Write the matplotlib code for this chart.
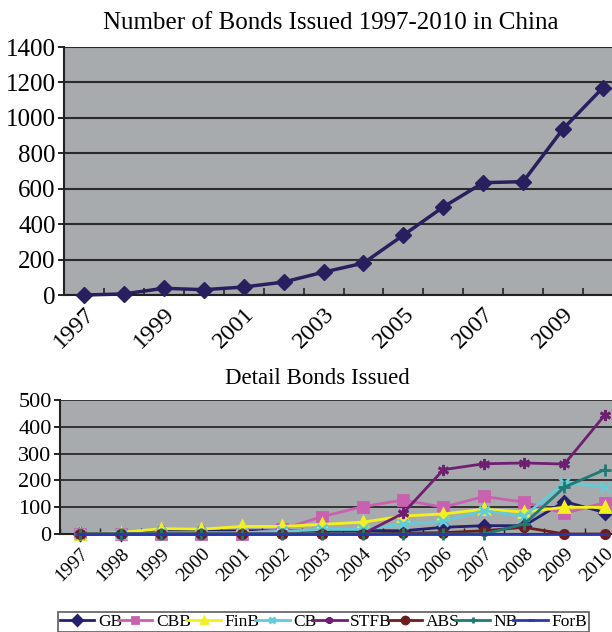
import matplotlib
matplotlib.use("Agg")
import matplotlib.pyplot as plt

plt.rcParams['font.family'] = ['Liberation Serif', 'DejaVu Serif']

years = [str(y) for y in range(1997, 2011)]

# total number of bonds issued
total = [0, 6, 38, 30, 45, 73, 129, 180, 338, 497, 634, 640, 938, 1171]

# detail by bond type
gb = [0, 0, 10, 10, 12, 13, 13, 13, 12, 25, 31, 31, 121, 80]
cbb = [0, 0, 0, 0, 0, 18, 65, 102, 127, 100, 140, 119, 77, 117]
finb = [0, 5, 20, 18, 28, 28, 36, 44, 67, 75, 92, 82, 100, 99]
cb = [0, 0, 5, 5, 5, 10, 17, 17, 37, 47, 87, 67, 190, 177]
stfb = [0, 0, 0, 0, 0, 0, 0, 0, 77, 240, 262, 265, 261, 444]
abs_ = [0, 0, 0, 0, 0, 0, 0, 0, 3, 5, 12, 25, 0, 0]
nb = [0, 0, 0, 0, 0, 0, 0, 0, 0, 0, 0, 37, 175, 240]
forb = [0, 0, 0, 0, 0, 0, 0, 0, 0, 0, 0, 0, 0, 0]

bg = "#a8abae"
grid_c = "#2a2a2a"

fig = plt.figure(figsize=(6.12, 6.32), dpi=100)
fig.patch.set_facecolor("white")

x = list(range(len(years)))

# ---- top chart
ax1 = fig.add_axes([64/612, 1-295/632, (623-64)/612, (295-47)/632])
ax1.set_facecolor(bg)
ax1.plot(x, total, color="#28205e", lw=2.5, marker="D", ms=8, clip_on=False, zorder=3)
ax1.set_xlim(-0.5, 13.5)
ax1.set_ylim(0, 1400)
ax1.set_yticks(range(0, 1401, 200))
ax1.yaxis.grid(True, color=grid_c, lw=1.5)
ax1.set_axisbelow(True)
ax1.set_xticks([i - 0.5 for i in range(15)])
ax1.set_xticklabels([])
ax1.tick_params(axis="x", which="major", direction="in", length=5, width=1.2, color="#222")
ax1.set_xticks(x[::2], minor=True)
ax1.set_xticklabels(years[::2], minor=True, rotation=45, ha="right",
                    rotation_mode="anchor", fontsize=17.5)
ax1.tick_params(axis="x", which="minor", length=0, pad=6)
ax1.tick_params(axis="y", labelsize=18, length=4, width=1.2, pad=2)
for s in ["top", "right"]:
    ax1.spines[s].set_visible(False)
ax1.spines["left"].set_color("#222")
ax1.spines["left"].set_linewidth(1.5)
ax1.spines["bottom"].set_color("#222")
ax1.spines["bottom"].set_linewidth(1.5)
fig.text(331/612, 1-23/632, "Number of Bonds Issued 1997-2010 in China",
         ha="center", va="center", fontsize=18)

# ---- bottom chart
ax2 = fig.add_axes([60/612, 1-534/632, (625-60)/612, (534-400)/632])
ax2.set_facecolor(bg)
series = [
    ("GB", gb, "#241f6e", "D", 6),
    ("CBB", cbb, "#c862b0", "s", 7),
    ("FinB", finb, "#f2f21a", "^", 7),
    ("CB", cb, "#62ccd8", "x", 7),
    ("STFB", stfb, "#6e1f72", (6, 2, 0), 8),
    ("ABS", abs_, "#6e1d1d", "o", 6),
    ("NB", nb, "#1d7a74", "+", 8),
    ("ForB", forb, "#2838b0", "_", 6),
]
for name, vals, col, mk, ms in series:
    ax2.plot(x, vals, color=col, lw=2, marker=mk, ms=ms, mew=2,
             label=name, clip_on=False, zorder=3)
ax2.set_xlim(-0.5, 13.5)
ax2.set_ylim(0, 500)
ax2.set_yticks(range(0, 501, 100))
ax2.yaxis.grid(True, color=grid_c, lw=1.3)
ax2.set_axisbelow(True)
ax2.set_xticks([i - 0.5 for i in range(15)])
ax2.set_xticklabels([])
ax2.tick_params(axis="x", which="major", direction="in", length=4, width=1, color="#222")
ax2.set_xticks(x, minor=True)
ax2.set_xticklabels(years, minor=True, rotation=45, ha="right",
                    rotation_mode="anchor", fontsize=14)
ax2.tick_params(axis="x", which="minor", length=0, pad=8)
ax2.tick_params(axis="y", labelsize=16, length=4, width=1.2, pad=2)
for s in ["top", "right"]:
    ax2.spines[s].set_visible(False)
ax2.spines["left"].set_color("#222")
ax2.spines["left"].set_linewidth(1.5)
ax2.spines["bottom"].set_color("#222")
ax2.spines["bottom"].set_linewidth(1.5)
fig.text(317/612, 1-378/632, "Detail Bonds Issued", ha="center", va="center", fontsize=16.5)

leg = fig.legend(loc="lower left", bbox_to_anchor=(58/612, 0.0, (589-58)/612, 20/632),
                 ncol=8, mode="expand", fontsize=12.5, frameon=True, fancybox=False,
                 borderpad=0.1, handlelength=2.0, handletextpad=0.2, columnspacing=0.3,
                 borderaxespad=0)
leg.get_frame().set_edgecolor("#333")
leg.get_frame().set_linewidth(1.2)
for h in leg.legend_handles:
    h.set_markersize(5)

fig.savefig("out.png", dpi=100)
